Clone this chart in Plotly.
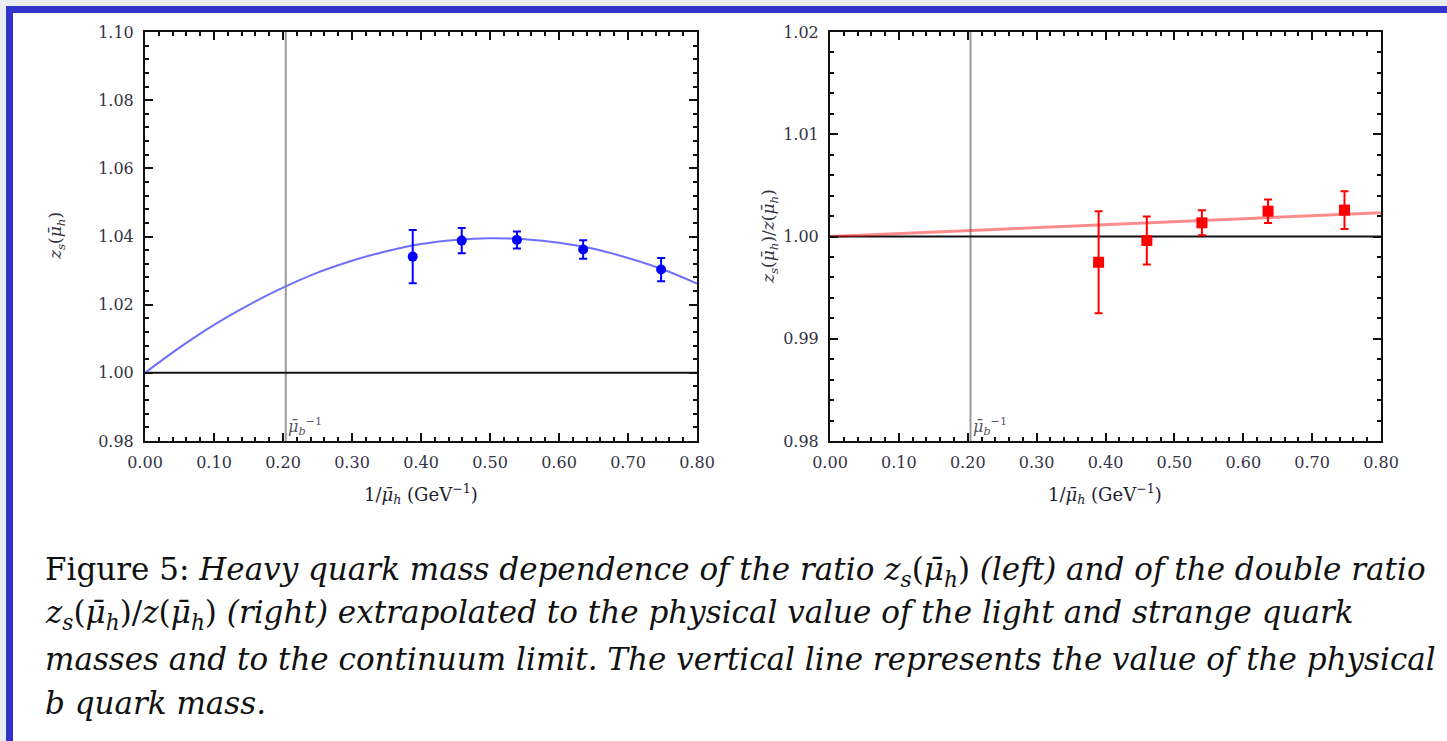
import plotly.graph_objects as go

# ---------------- data ----------------
left_x = [0.388, 0.459, 0.539, 0.635, 0.748]
left_y = [1.0341, 1.0388, 1.0390, 1.0362, 1.0303]
left_err = [0.0078, 0.0037, 0.0025, 0.0027, 0.0034]

left_fit_x = [0.0, 0.05, 0.1, 0.15, 0.2, 0.25, 0.3, 0.35, 0.4, 0.45, 0.5, 0.55, 0.6, 0.65, 0.7, 0.75, 0.8]
left_fit_y = [1.0000, 1.0074, 1.0141, 1.0199, 1.0250, 1.0294, 1.0329, 1.0357, 1.0378, 1.0390, 1.0395,
              1.0392, 1.0382, 1.0364, 1.0337, 1.0304, 1.0262]

right_x = [0.390, 0.460, 0.540, 0.636, 0.747]
right_y = [0.99748, 0.99961, 1.00134, 1.00248, 1.00258]
right_err = [0.00498, 0.00235, 0.00122, 0.00115, 0.00185]

right_fit_x = [0.0, 0.8]
right_fit_y = [1.0000, 1.00232]

mub_inv = 0.204

x_ticks = [0.0, 0.1, 0.2, 0.3, 0.4, 0.5, 0.6, 0.7, 0.8]
left_y_ticks = [0.98, 1.00, 1.02, 1.04, 1.06, 1.08, 1.10]
right_y_ticks = [0.98, 0.99, 1.00, 1.01, 1.02]

caption_lines = [
    "Figure 5: <i>Heavy quark mass dependence of the ratio z<sub>s</sub></i>(<i>μ̄<sub>h</sub></i>) <i>(left) and of the double ratio</i>",
    "<i>z<sub>s</sub></i>(<i>μ̄<sub>h</sub></i>)/<i>z</i>(<i>μ̄<sub>h</sub></i>) <i>(right) extrapolated to the physical value of the light and strange quark</i>",
    "<i>masses and to the continuum limit. The vertical line represents the value of the physical</i>",
    "<i>b quark mass.</i>",
]

# ---------------- layout constants ----------------
W, H = 1447, 741
SERIF = "DejaVu Serif"


def px_x(p):
    return p / W


def px_y(p):
    return 1 - p / H


fig = go.Figure()

# left panel
fig.add_trace(go.Scatter(x=left_fit_x, y=left_fit_y, mode="lines", line=dict(color="#6f6fff", width=2, shape="spline"),
                         xaxis="x", yaxis="y", showlegend=False, hoverinfo="skip"))
fig.add_trace(go.Scatter(x=left_x, y=left_y, mode="markers",
                         marker=dict(color="#0000ff", size=10, symbol="circle"),
                         error_y=dict(type="data", array=left_err, color="#0000ff", thickness=2, width=4),
                         xaxis="x", yaxis="y", showlegend=False))

# right panel
fig.add_trace(go.Scatter(x=right_fit_x, y=right_fit_y, mode="lines", line=dict(color="rgba(255,0,0,0.45)", width=3),
                         xaxis="x2", yaxis="y2", showlegend=False, hoverinfo="skip"))
fig.add_trace(go.Scatter(x=right_x, y=right_y, mode="markers",
                         marker=dict(color="#ff0000", size=11, symbol="square"),
                         error_y=dict(type="data", array=right_err, color="#ff0000", thickness=2, width=4),
                         xaxis="x2", yaxis="y2", showlegend=False))

shapes = [
    # blue framed white page
    dict(type="rect", xref="paper", yref="paper", x0=px_x(9.5), x1=1.05, y0=-0.05, y1=px_y(9.5),
         line=dict(color="#3333cc", width=7), fillcolor="white", layer="below"),
]
for xa, ya in (("x", "y"), ("x2", "y2")):
    shapes.append(dict(type="line", xref=xa, yref=ya + " domain", x0=mub_inv, x1=mub_inv, y0=0, y1=1,
                       line=dict(color="#999999", width=2), layer="below"))
    shapes.append(dict(type="line", xref=xa + " domain", yref=ya, x0=0, x1=1, y0=1.0, y1=1.0,
                       line=dict(color="#111111", width=2), layer="below"))

axis_common = dict(
    showgrid=False, zeroline=False, showline=True, linecolor="#111111", linewidth=2,
    mirror="allticks", ticks="inside", ticklen=8, tickwidth=2, tickcolor="#111111",
    tickfont=dict(family=SERIF, size=16, color="#333344"), automargin=False,
)
minor_common = dict(ticks="inside", ticklen=4, tickwidth=1.5, tickcolor="#111111")

xdom_l = [px_x(145), px_x(697)]
xdom_r = [px_x(830), px_x(1381)]
ydom = [px_y(441), px_y(32)]

fig.update_layout(
    width=W, height=H,
    margin=dict(l=0, r=0, t=0, b=0, autoexpand=False),
    paper_bgcolor="#e9eef2",
    plot_bgcolor="rgba(0,0,0,0)",
    shapes=shapes,
    xaxis=dict(domain=xdom_l, range=[0, 0.8], tickvals=x_ticks, tickformat=".2f", anchor="y",
               ticklabelstandoff=6, minor=dict(minor_common, dtick=0.02), **axis_common),
    yaxis=dict(domain=ydom, range=[0.98, 1.10], tickvals=left_y_ticks, tickformat=".2f", anchor="x",
               ticklabelstandoff=6, minor=dict(minor_common, dtick=0.004), **axis_common),
    xaxis2=dict(domain=xdom_r, range=[0, 0.8], tickvals=x_ticks, tickformat=".2f", anchor="y2",
                ticklabelstandoff=6, minor=dict(minor_common, dtick=0.02), **axis_common),
    yaxis2=dict(domain=ydom, range=[0.98, 1.02], tickvals=right_y_ticks, tickformat=".2f", anchor="x2",
                ticklabelstandoff=6, minor=dict(minor_common, dtick=0.002), **axis_common),
)

annotations = []
# mu_b^-1 labels
for xa, ya in (("x", "y"), ("x2", "y2")):
    annotations.append(dict(x=mub_inv, y=0, xref=xa, yref=ya + " domain", xanchor="left", yanchor="bottom",
                            text="<i>μ̄<sub>b</sub></i><sup>−1</sup>", showarrow=False, xshift=0, yshift=1,
                            font=dict(family=SERIF, size=16, color="#555566")))
# x titles
for cx in (421, 1105):
    annotations.append(dict(x=px_x(cx), y=px_y(494), xref="paper", yref="paper", xanchor="center", yanchor="middle",
                            text="1/<i>μ̄<sub>h</sub></i> (GeV<sup>−1</sup>)", showarrow=False,
                            font=dict(family=SERIF, size=18, color="#222233")))
# y titles
annotations.append(dict(x=px_x(56), y=px_y(236), xref="paper", yref="paper", xanchor="center", yanchor="middle",
                        text="<i>z<sub>s</sub></i>(<i>μ̄<sub>h</sub></i>)", textangle=-90, showarrow=False,
                        font=dict(family=SERIF, size=17, color="#333344")))
annotations.append(dict(x=px_x(769), y=px_y(237), xref="paper", yref="paper", xanchor="center", yanchor="middle",
                        text="<i>z<sub>s</sub></i>(<i>μ̄<sub>h</sub></i>)/<i>z</i>(<i>μ̄<sub>h</sub></i>)", textangle=-90,
                        showarrow=False, font=dict(family=SERIF, size=17, color="#333344")))
# caption
for i, (line, cy) in enumerate(zip(caption_lines, (571, 614, 659, 703))):
    annotations.append(dict(x=px_x(43), y=px_y(cy), xref="paper", yref="paper", xanchor="left", yanchor="middle",
                            text=line, showarrow=False, align="left",
                            font=dict(family=SERIF, size=31, color="#111111")))

fig.update_layout(annotations=annotations)

fig.write_html("out.html")
